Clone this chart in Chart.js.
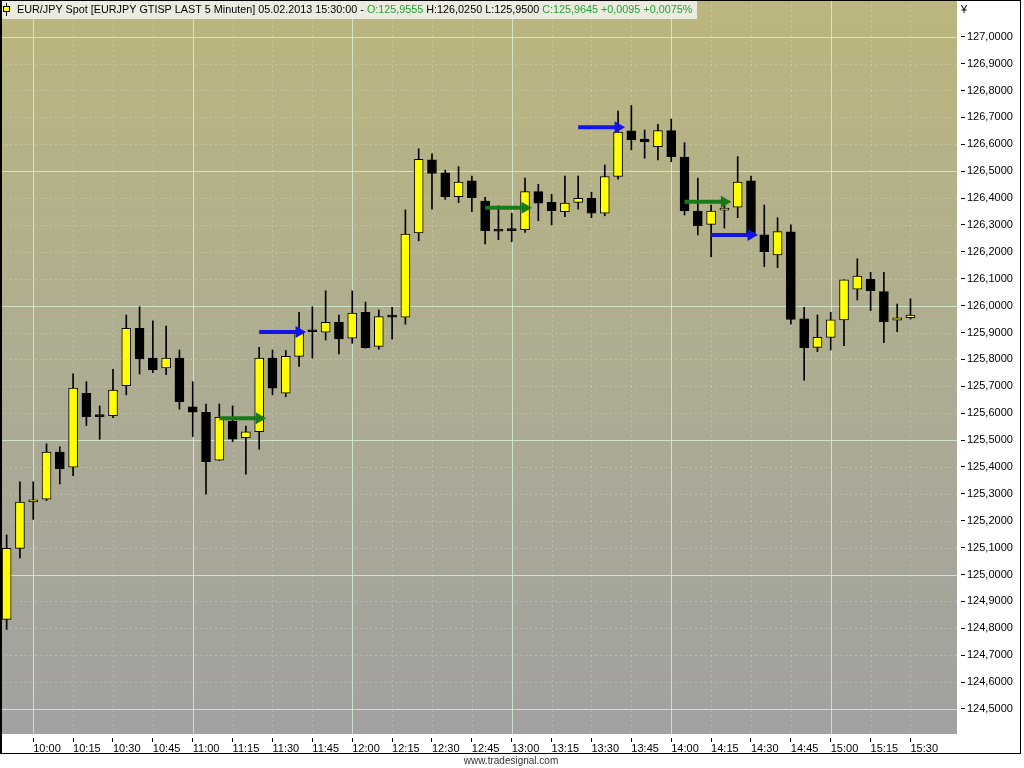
<!DOCTYPE html>
<html>
<head>
<meta charset="utf-8">
<style>
  html, body { margin: 0; padding: 0; background: #fff; }
</style>
</head>
<body>
    <canvas id="chartEJ" width="1024" height="768"></canvas>

    <script src="https://cdn.jsdelivr.net/npm/chart.js"></script>

    <script>
        // EUR/JPY 5 min bars, 05.02.2013
        const times = ['09:50','09:55','10:00','10:05','10:10','10:15','10:20','10:25','10:30','10:35','10:40','10:45',
                       '10:50','10:55','11:00','11:05','11:10','11:15','11:20','11:25','11:30','11:35','11:40','11:45',
                       '11:50','11:55','12:00','12:05','12:10','12:15','12:20','12:25','12:30','12:35','12:40','12:45',
                       '12:50','12:55','13:00','13:05','13:10','13:15','13:20','13:25','13:30','13:35','13:40','13:45',
                       '13:50','13:55','14:00','14:05','14:10','14:15','14:20','14:25','14:30','14:35','14:40','14:45',
                       '14:50','14:55','15:00','15:05','15:10','15:15','15:20','15:25','15:30']
        const opens  = [124.833,125.097,125.270,125.280,125.455,125.399,125.674,125.590,125.591,125.702,125.916,125.805,
                        125.768,125.805,125.624,125.603,125.425,125.571,125.509,125.531,125.805,125.674,125.811,125.905,
                        125.901,125.938,125.879,125.975,125.848,125.960,125.957,126.270,126.542,126.494,126.405,126.464,
                        126.389,126.279,126.281,126.282,126.424,126.384,126.349,126.384,126.399,126.344,126.480,126.650,
                        126.619,126.591,126.651,126.552,126.352,126.302,126.355,126.366,126.464,126.263,126.189,126.274,
                        125.951,125.845,125.882,125.947,126.061,126.098,126.052,125.946,125.9555]
        const highs  = [125.147,125.345,125.345,125.486,125.475,125.746,125.717,125.627,125.763,125.965,125.996,125.943,
                        125.924,125.835,125.717,125.634,125.634,125.627,125.552,125.845,125.835,125.833,125.975,125.996,
                        126.055,125.965,126.055,126.013,125.984,125.994,126.356,126.583,126.564,126.504,126.517,126.482,
                        126.403,126.371,126.344,126.474,126.451,126.414,126.482,126.482,126.422,126.523,126.723,126.744,
                        126.653,126.674,126.694,126.606,126.474,126.374,126.377,126.554,126.482,126.374,126.327,126.300,
                        125.994,125.965,125.975,126.096,126.174,126.124,126.124,126.006,126.025]
        const lows   = [124.796,125.062,125.205,125.275,125.337,125.368,125.554,125.503,125.583,125.668,125.746,125.751,
                        125.743,125.615,125.513,125.299,125.424,125.494,125.373,125.466,125.668,125.661,125.774,125.805,
                        125.872,125.820,125.860,125.842,125.838,125.875,125.931,126.241,126.359,126.395,126.383,126.349,
                        126.229,126.245,126.238,126.272,126.316,126.300,126.331,126.359,126.327,126.334,126.470,126.579,
                        126.548,126.542,126.535,126.337,126.263,126.182,126.288,126.327,126.260,126.145,126.141,125.931,
                        125.723,125.829,125.835,125.851,126.021,125.981,125.862,125.903,125.950]
        const closes = [125.097,125.269,125.278,125.455,125.394,125.693,125.587,125.587,125.686,125.916,125.802,125.761,
                        125.805,125.643,125.604,125.420,125.585,125.503,125.531,125.805,125.693,125.811,125.901,125.903,
                        125.938,125.876,125.972,125.844,125.959,125.957,126.266,126.544,126.492,126.405,126.459,126.401,
                        126.279,126.277,126.279,126.424,126.381,126.353,126.381,126.399,126.344,126.480,126.645,126.616,
                        126.610,126.651,126.554,126.353,126.297,126.352,126.362,126.459,126.263,126.201,126.275,125.949,
                        125.844,125.882,125.947,126.096,126.110,126.056,125.940,125.955,125.9645]

        // signal arrows: [from, to, price]
        const greenArrows = [['11:10','11:25',125.581], ['12:50','13:05',126.364], ['14:05','14:20',126.386]]
        const blueArrows  = [['11:25','11:40',125.902], ['13:25','13:40',126.663], ['14:15','14:30',126.263]]

        const yTicks = [124.5,124.6,124.7,124.8,124.9,125.0,125.1,125.2,125.3,125.4,125.5,125.6,125.7,
                        125.8,125.9,126.0,126.1,126.2,126.3,126.4,126.5,126.6,126.7,126.8,126.9,127.0]

        // 3 empty slots keep the free space right of the last bar
        const labels = times.concat(['', '', ''])

        const fmt = v => v.toFixed(4).replace('.', ',')
        const mins = t => parseInt(t.slice(3), 10)

        const wicks = lows.map((l, i) => [l, highs[i]])
        const bodies = opens.map((o, i) => [Math.min(o, closes[i]), Math.max(o, closes[i])])
        const bodyColors = opens.map((o, i) => closes[i] >= o ? '#ffff00' : '#000000')

        const arrowSet = (a, col) => ({
            type: 'line',
            data: [{x: a[0], y: a[2]}, {x: a[1], y: a[2]}],
            borderColor: col,
            backgroundColor: col,
            borderWidth: 4,
            pointRadius: [0, 7],
            pointStyle: 'triangle',
            pointRotation: 90,
            pointBorderWidth: 0,
            order: 0
        })

        const FONT = '"Liberation Sans", Arial, sans-serif'

        const chartDeco = {
            id: 'chartDeco',
            beforeDraw(chart) {
                const {ctx, chartArea: a} = chart
                ctx.save()
                ctx.fillStyle = '#fff'
                ctx.fillRect(0, 0, chart.width, chart.height)
                const g = ctx.createLinearGradient(0, a.top, 0, a.bottom)
                g.addColorStop(0, '#bbb67e')
                g.addColorStop(0.5, '#aeac92')
                g.addColorStop(1, '#a1a1a0')
                ctx.fillStyle = g
                ctx.fillRect(a.left, a.top, a.right - a.left, a.bottom - a.top)
                ctx.restore()
            },
            beforeDatasetsDraw(chart) {
                const {ctx, chartArea: a, scales: {x, y}} = chart
                ctx.save()
                ctx.lineWidth = 1
                // minor dotted
                ctx.strokeStyle = 'rgba(255,255,255,0.22)'
                ctx.setLineDash([2, 3])
                times.forEach((t, i) => {
                    if (mins(t) % 15 === 0 && mins(t) !== 0) {
                        const px = Math.round(x.getPixelForValue(i)) + 0.5
                        ctx.beginPath(); ctx.moveTo(px, a.top); ctx.lineTo(px, a.bottom); ctx.stroke()
                    }
                })
                yTicks.forEach(v => {
                    if (Math.round(v * 10) % 5 !== 0) {
                        const py = Math.round(y.getPixelForValue(v)) + 0.5
                        ctx.beginPath(); ctx.moveTo(a.left, py); ctx.lineTo(a.right, py); ctx.stroke()
                    }
                })
                // major solid
                ctx.setLineDash([])
                ctx.strokeStyle = 'rgba(214,236,212,0.85)'
                times.forEach((t, i) => {
                    if (mins(t) === 0) {
                        const px = Math.round(x.getPixelForValue(i)) + 0.5
                        ctx.beginPath(); ctx.moveTo(px, a.top); ctx.lineTo(px, a.bottom); ctx.stroke()
                    }
                })
                yTicks.forEach(v => {
                    if (Math.round(v * 10) % 5 === 0) {
                        const py = Math.round(y.getPixelForValue(v)) + 0.5
                        ctx.beginPath(); ctx.moveTo(a.left, py); ctx.lineTo(a.right, py); ctx.stroke()
                    }
                })
                ctx.restore()
            },
            afterDraw(chart) {
                const {ctx} = chart
                const n = closes.length
                ctx.save()
                // frame
                ctx.strokeStyle = '#000'
                ctx.lineWidth = 1
                ctx.strokeRect(0.5, 0.5, 1020, 753)
                ctx.fillStyle = '#000'
                ctx.fillRect(0, 0, 2, 754)

                // title
                const chg = closes[n - 1] - closes[n - 2]
                const segs = [
                    ['EUR/JPY Spot [EURJPY GTISP LAST 5 Minuten] 05.02.2013 15:30:00 - ', '#000'],
                    ['O:' + fmt(opens[n - 1]), '#1fa534'],
                    [' H:' + fmt(highs[n - 1]) + ' L:' + fmt(lows[n - 1]) + ' ', '#000'],
                    ['C:' + fmt(closes[n - 1]) + ' +' + fmt(chg) + ' +' + fmt(chg / closes[n - 2] * 100) + '%', '#1fa534']
                ]
                ctx.font = '11px ' + FONT
                let w = 0
                segs.forEach(s => w += ctx.measureText(s[0]).width)
                const size = 11 * 676 / w
                ctx.font = size.toFixed(2) + 'px ' + FONT
                ctx.fillStyle = 'rgba(240,240,232,0.92)'
                ctx.fillRect(2, 1, 695, 18)
                // little candle icon
                ctx.fillStyle = '#000'
                ctx.fillRect(6, 3, 1, 13)
                ctx.fillStyle = '#ffff00'
                ctx.fillRect(3, 6, 7, 6)
                ctx.strokeRect(3.5, 6.5, 6, 5)
                ctx.textBaseline = 'middle'
                let tx = 17
                segs.forEach(s => {
                    ctx.fillStyle = s[1]
                    ctx.fillText(s[0], tx, 10.5)
                    tx += ctx.measureText(s[0]).width
                })

                // currency sign on the price axis
                ctx.fillStyle = '#000'
                ctx.font = '11px ' + FONT
                ctx.textAlign = 'left'
                ctx.fillText('¥', 961, 10)

                // footer
                ctx.font = '10px ' + FONT
                ctx.fillStyle = '#333'
                ctx.textAlign = 'center'
                ctx.fillText('www.tradesignal.com', 511, 761)
                ctx.restore()
            }
        }

        const ctxEJ = document.getElementById('chartEJ')

        const myChartEJ = new Chart(ctxEJ, {
            type: 'bar',
            data: {
                labels: labels,
                datasets: [
                    {
                        label: 'wick',
                        data: wicks,
                        backgroundColor: '#000',
                        barThickness: 1,
                        grouped: false,
                        order: 2
                    },
                    {
                        label: 'body',
                        data: bodies,
                        backgroundColor: bodyColors,
                        borderColor: '#000',
                        borderWidth: 1,
                        borderSkipped: false,
                        barThickness: 9,
                        minBarLength: 2,
                        grouped: false,
                        order: 1
                    },
                    ...greenArrows.map(a => arrowSet(a, '#177a17')),
                    ...blueArrows.map(a => arrowSet(a, '#1414e6'))
                ]
            },
            options: {
                responsive: false,
                animation: false,
                events: [],
                layout: { autoPadding: false, padding: { left: 0, top: 0, right: 4, bottom: 13 } },
                plugins: {
                    legend: { display: false },
                    tooltip: { enabled: false }
                },
                scales: {
                    x: {
                        offset: true,
                        border: { display: false },
                        grid: {
                            offset: false,
                            drawOnChartArea: false,
                            drawTicks: true,
                            tickLength: 8,
                            tickColor: '#000',
                            tickBorderDash: [0, 4, 4, 0]
                        },
                        ticks: {
                            autoSkip: false,
                            maxRotation: 0,
                            align: 'start',
                            padding: 0,
                            color: '#000',
                            font: { family: FONT, size: 11 }
                        },
                        afterBuildTicks: s => {
                            s.ticks = s.ticks.filter(t => t.value < times.length && mins(times[t.value]) % 15 === 0)
                        },
                        afterFit: s => {
                            s.height = 21
                            s.paddingLeft = 0
                            s.paddingRight = 0
                        }
                    },
                    y: {
                        position: 'right',
                        min: 124.407,
                        max: 127.1365,
                        border: { display: false },
                        grid: {
                            drawOnChartArea: false,
                            drawTicks: true,
                            tickLength: 8,
                            tickColor: '#000',
                            tickBorderDash: [0, 4, 4, 0]
                        },
                        ticks: {
                            padding: 2,
                            color: '#000',
                            font: { family: FONT, size: 11 },
                            callback: v => fmt(v)
                        },
                        afterBuildTicks: s => {
                            s.ticks = yTicks.map(v => ({ value: v }))
                        },
                        afterFit: s => {
                            s.width = 63
                            s.paddingTop = 0
                            s.paddingBottom = 0
                        }
                    }
                }
            },
            plugins: [chartDeco]
        })
    </script>
</body>
</html>
